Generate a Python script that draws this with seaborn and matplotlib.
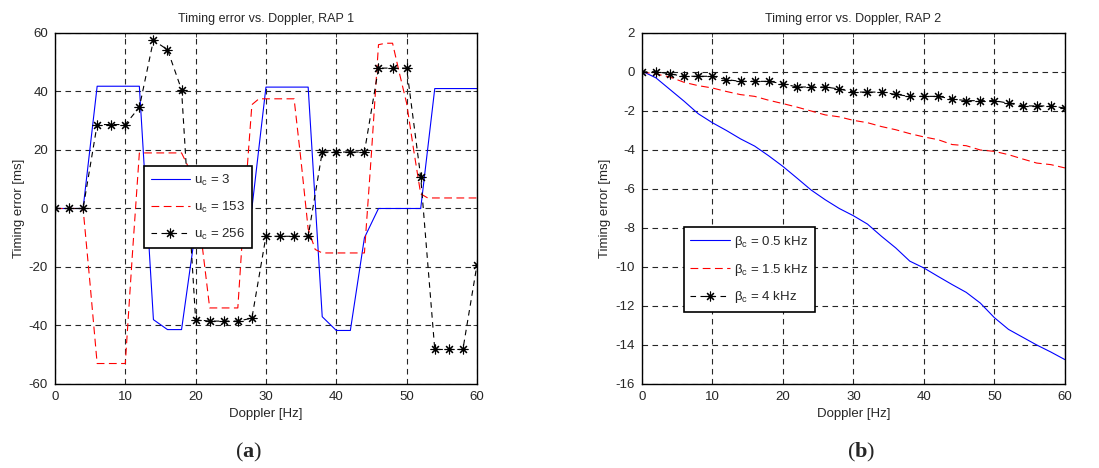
import numpy as np
import pandas as pd
import seaborn as sns
import matplotlib
matplotlib.use("Agg")
import matplotlib.pyplot as plt


# data
doppler_2hz = np.arange(0, 61, 2)
doppler_1hz = np.arange(0, 61, 1)

# (a) RAP 1
rap1_u3 = [0, 0, 0, 41.8, 41.8, 41.8, 41.8, -38, -41.4, -41.4, -7, 0, 0, 0, 0,
           41.5, 41.5, 41.5, 41.5, -37, -41.7, -41.7, -10, 0, 0, 0, 0,
           41, 41, 41, 41]
rap1_u153 = [0, 0, 0, 0, 0, -26, -53, -53, -53, -53, -53, -16, 19, 19, 19, 19,
             19, 19, 19, 14, 4, -14, -34, -34, -34, -34, -34, 3, 35.5, 37.5,
             37.5, 37.5, 37.5, 37.5, 37.5, 16, -7, -14, -15.2, -15.2, -15.2,
             -15.2, -15.2, -15.2, -15.2, 19, 56, 56.5, 56.5, 46, 36, 20, 5,
             3.6, 3.6, 3.6, 3.6, 3.6, 3.6, 3.6, 3.6]
rap1_u256 = [0, 0, 0, 28.7, 28.7, 28.7, 34.6, 57.5, 54.3, 40.6, -38, -38.5,
             -38.5, -38.5, -37.5, -9.5, -9.5, -9.5, -9.5, 19.3, 19.3, 19.3,
             19.3, 48, 48, 48, 10.8, -48.2, -48.2, -48.2, -19.3]

# (b) RAP 2
rap2_b05 = [0.05, -0.3, -0.9, -1.5, -2.14, -2.6, -3.0, -3.43, -3.8, -4.3, -4.84,
            -5.44, -6.05, -6.55, -7.0, -7.37, -7.8, -8.43, -9.02, -9.7, -10.05,
            -10.48, -10.9, -11.3, -11.85, -12.6, -13.2, -13.6, -14.0, -14.36,
            -14.75]
rap2_b15 = [0, -0.1, -0.26, -0.53, -0.7, -0.82, -1.0, -1.16, -1.25, -1.45, -1.62,
            -1.8, -2.0, -2.2, -2.3, -2.48, -2.6, -2.8, -2.96, -3.16, -3.33,
            -3.47, -3.72, -3.78, -4.0, -4.07, -4.24, -4.46, -4.67, -4.75, -4.92]
rap2_b4 = [0, 0.02, -0.1, -0.22, -0.22, -0.22, -0.39, -0.48, -0.48, -0.48, -0.6,
           -0.77, -0.77, -0.77, -0.87, -1.03, -1.03, -1.03, -1.15, -1.25, -1.25,
           -1.25, -1.38, -1.47, -1.47, -1.47, -1.6, -1.74, -1.74, -1.74, -1.85]


sns.set_style("white")
plt.rcParams['font.family'] = ['Liberation Sans', 'DejaVu Sans']
plt.rcParams['axes.unicode_minus'] = False
plt.rcParams['mathtext.fontset'] = 'custom'
plt.rcParams['mathtext.default'] = 'regular'
plt.rcParams['mathtext.bf'] = 'Liberation Serif:bold'
plt.rcParams['mathtext.rm'] = 'Liberation Serif'

fig = plt.figure(figsize=(10.99, 4.68), dpi=100)
ax1 = fig.add_axes([0.050, 0.1795, 0.384, 0.750])
ax2 = fig.add_axes([0.584, 0.1795, 0.385, 0.750])

star = (8, 2, 0)
blue_kw = dict(color='#0000ff', lw=0.8)
red_kw = dict(color='#ff0000', lw=0.8, dashes=(7, 4))
black_kw = dict(color='black', lw=0.8, dashes=(5, 4), marker=star,
                markersize=7, markeredgewidth=0.8, markeredgecolor='black')
leg_kw = dict(loc='upper left', fontsize=9.5, frameon=True, fancybox=False,
              edgecolor='black', framealpha=1, handlelength=3.0,
              handletextpad=0.3, labelspacing=0.9, borderpad=0.5,
              borderaxespad=0)

# (a)
sns.lineplot(x=doppler_2hz, y=rap1_u3, ax=ax1, label=r'u$_c$ = 3', **blue_kw)
sns.lineplot(x=doppler_1hz, y=rap1_u153, ax=ax1, label=r'u$_c$ = 153', **red_kw)
sns.lineplot(x=doppler_2hz, y=rap1_u256, ax=ax1, label=r'u$_c$ = 256', **black_kw)
ax1.set_xlim(0, 60)
ax1.set_ylim(-60, 60)
ax1.set_yticks(np.arange(-60, 61, 20))
ax1.set_title('Timing error vs. Doppler, RAP 1', fontsize=9, pad=8)
ax1.legend(bbox_to_anchor=(0.211, 0.621), **leg_kw)

# (b)
sns.lineplot(x=doppler_2hz, y=rap2_b05, ax=ax2, label=r'β$_c$ = 0.5 kHz', **blue_kw)
sns.lineplot(x=doppler_2hz, y=rap2_b15, ax=ax2, label=r'β$_c$ = 1.5 kHz', **red_kw)
sns.lineplot(x=doppler_2hz, y=rap2_b4, ax=ax2, label=r'β$_c$ = 4 kHz', **black_kw)
ax2.set_xlim(0, 60)
ax2.set_ylim(-16, 2)
ax2.set_yticks(np.arange(-16, 3, 2))
ax2.set_title('Timing error vs. Doppler, RAP 2', fontsize=9, pad=8)
ax2.legend(bbox_to_anchor=(0.099, 0.447), **leg_kw)

for ax in (ax1, ax2):
    ax.set_xticks(np.arange(0, 61, 10))
    ax.set_xlabel('Doppler [Hz]', fontsize=9.5, labelpad=4)
    ax.set_ylabel('Timing error [ms]', fontsize=9.5, labelpad=3)
    ax.tick_params(direction='in', length=3, width=0.6, labelsize=9.5,
                   top=True, right=True, pad=5)
    ax.grid(True, color='0.15', linestyle=(0, (5, 4)), linewidth=0.8)
    ax.set_axisbelow(True)
    for s in ax.spines.values():
        s.set_color('black')
        s.set_linewidth(1.0)
    ax.get_legend().get_frame().set_linewidth(1.2)

fig.text(0.226, 0.034, r'($\mathbf{a}$)', ha='center', va='center',
         fontsize=16, family='Liberation Serif')
fig.text(0.784, 0.034, r'($\mathbf{b}$)', ha='center', va='center',
         fontsize=16, family='Liberation Serif')

fig.savefig('out.png', dpi=100)
